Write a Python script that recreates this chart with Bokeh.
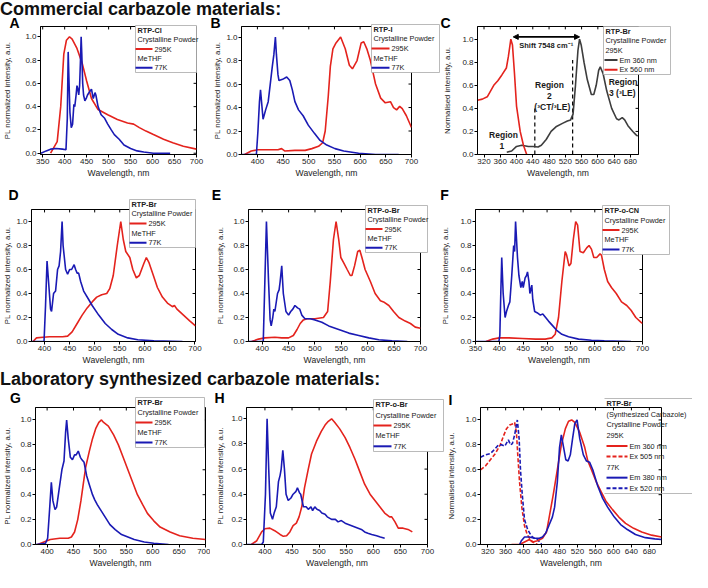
from bokeh.plotting import figure
from bokeh.models import (Range1d, FixedTicker, PrintfTickFormatter, Label, Arrow,
                          NormalHead, Div, GridBox)
from bokeh.layouts import column, row
from bokeh.core.properties import value
from bokeh.embed import file_html
from bokeh.resources import INLINE

FONT = "Liberation Sans"
RED = "#e4231d"
BLUE = "#1a1ab4"
GRAY = "#3d3d3d"
BOXC = "#a8a8a8"

# ---------------- data ----------------
A_295_x = [368, 383, 391, 398, 404, 411, 417, 428, 440, 450, 461, 476, 498, 520, 543, 557, 570, 585, 602, 625, 646, 670, 700]
A_295_y = [0, 0.1, 0.4, 0.85, 0.97, 1.0, 0.98, 0.9, 0.77, 0.62, 0.47, 0.375, 0.33, 0.29, 0.26, 0.25, 0.22, 0.19, 0.16, 0.12, 0.09, 0.06, 0.035]
A_77_x = [346, 358, 368, 380, 395, 403, 406, 408, 410, 412, 415, 418, 421, 423, 426, 428, 430, 432, 434, 436, 437.5, 439, 441, 443, 446, 449, 452, 457, 461, 465, 469, 471, 476, 483, 491, 498, 506, 513, 524, 535, 550, 565, 580, 602, 640]
A_77_y = [0, 0.02, 0.035, 0.04, 0.035, 0.03, 0.3, 0.87, 0.6, 0.35, 0.22, 0.25, 0.42, 0.4, 0.5, 0.58, 0.55, 0.5, 0.58, 0.8, 1.0, 0.85, 0.6, 0.5, 0.45, 0.47, 0.5, 0.53, 0.55, 0.47, 0.52, 0.5, 0.4, 0.33, 0.3, 0.25, 0.2, 0.16, 0.12, 0.07, 0.04, 0.02, 0.01, 0.0, 0.0]

B_295_x = [375, 388, 400, 420, 440, 447, 453, 473, 493, 506, 519, 527, 532, 538, 542, 547, 553, 562, 571, 579, 585, 594, 602, 607, 613, 620, 630, 640, 649, 659, 665, 671, 677, 682, 690, 697, 700]
B_295_y = [0, 0.03, 0.04, 0.04, 0.04, 0.05, 0.03, 0.035, 0.035, 0.05, 0.07, 0.1, 0.2, 0.5, 0.75, 0.9, 0.95, 1.0, 0.9, 0.76, 0.73, 0.8, 0.95, 0.96, 0.9, 0.8, 0.6, 0.48, 0.44, 0.45, 0.4, 0.38, 0.41, 0.39, 0.33, 0.26, 0.23]
B_77_x = [369, 398, 401, 404, 406, 408, 411, 416, 421, 425, 429, 432, 435, 437, 440, 442, 449, 457, 463, 468, 473, 480, 489, 499, 511, 522, 535, 551, 568, 597, 630, 675]
B_77_y = [0, 0, 0.2, 0.45, 0.55, 0.45, 0.3, 0.38, 0.45, 0.6, 0.75, 0.85, 1.0, 0.85, 0.68, 0.63, 0.64, 0.66, 0.63, 0.55, 0.45, 0.38, 0.33, 0.25, 0.18, 0.12, 0.08, 0.05, 0.03, 0.01, 0.0, 0.0]

C_em_x = [376, 388, 400, 413, 429, 441, 453, 461, 473, 485, 497, 513, 525, 533, 539, 545, 551, 555, 559, 566, 574, 584, 590, 596, 602, 606, 613, 622, 634, 646, 652, 660, 666, 674, 686, 694, 698]
C_em_y = [0.02, 0.03, 0.07, 0.08, 0.07, 0.07, 0.065, 0.08, 0.13, 0.2, 0.24, 0.27, 0.29, 0.3, 0.35, 0.6, 0.9, 1.0, 0.95, 0.8, 0.65, 0.52, 0.52, 0.6, 0.73, 0.76, 0.7, 0.55, 0.4, 0.31, 0.3, 0.32, 0.3, 0.25, 0.2, 0.17, 0.16]
C_ex_x = [304, 316, 328, 336, 344, 354, 364, 375, 380, 386, 390, 395, 400, 409, 417, 425]
C_ex_y = [0.47, 0.48, 0.5, 0.55, 0.6, 0.64, 0.69, 0.75, 0.85, 1.0, 0.95, 0.7, 0.42, 0.2, 0.08, 0.0]

D_295_x = [377, 384, 397, 410, 436, 446, 455, 465, 475, 485, 495, 504, 514, 524, 530, 537, 545, 552, 557, 562, 570, 576, 583, 589, 598, 603, 608, 617, 625, 635, 645, 655, 659, 664, 677, 690, 701]
D_295_y = [0, 0.03, 0.035, 0.04, 0.04, 0.045, 0.08, 0.15, 0.22, 0.28, 0.33, 0.37, 0.39, 0.4, 0.44, 0.55, 0.8, 1.0, 0.85, 0.75, 0.7, 0.6, 0.53, 0.55, 0.65, 0.7, 0.66, 0.55, 0.45, 0.37, 0.32, 0.29, 0.3, 0.27, 0.22, 0.17, 0.13]
D_77_x = [374, 399, 402, 405, 408, 412, 414, 418, 422, 426, 429, 432, 435, 437, 442, 446, 450, 454, 459, 462, 465, 468, 472, 478, 488, 495, 508, 521, 534, 547, 566, 586, 618, 675]
D_77_y = [0, 0, 0.3, 0.67, 0.5, 0.27, 0.25, 0.4, 0.42, 0.6, 0.63, 0.75, 1.0, 0.8, 0.6, 0.56, 0.6, 0.6, 0.64, 0.6, 0.57, 0.57, 0.5, 0.42, 0.35, 0.3, 0.22, 0.15, 0.1, 0.06, 0.03, 0.015, 0.005, 0]

E_295_x = [380, 393, 405, 424, 437, 450, 459, 466, 472, 478, 485, 500, 516, 524, 529, 535, 540, 545, 549, 554, 561, 567, 570, 575, 581, 585, 589, 595, 605, 614, 624, 630, 640, 649, 659, 671, 681, 690, 700]
E_295_y = [0, 0.02, 0.03, 0.035, 0.03, 0.03, 0.05, 0.1, 0.15, 0.18, 0.19, 0.19, 0.2, 0.25, 0.5, 0.85, 1.0, 0.85, 0.7, 0.66, 0.6, 0.55, 0.55, 0.63, 0.75, 0.76, 0.7, 0.6, 0.5, 0.4, 0.34, 0.33, 0.3, 0.25, 0.2, 0.17, 0.15, 0.12, 0.11]
E_77_x = [374, 402, 405, 408, 412, 415, 417, 420, 422, 424, 429, 432, 434, 437, 440, 445, 450, 454, 458, 462, 467, 471, 475, 481, 491, 500, 513, 526, 545, 564, 583, 602, 621, 646, 675]
E_77_y = [0, 0, 0.5, 1.0, 0.5, 0.18, 0.13, 0.2, 0.27, 0.25, 0.4, 0.43, 0.5, 0.63, 0.4, 0.25, 0.22, 0.25, 0.27, 0.3, 0.28, 0.27, 0.22, 0.19, 0.19, 0.18, 0.16, 0.13, 0.1, 0.07, 0.05, 0.03, 0.015, 0.005, 0]

F_295_x = [372, 386, 400, 420, 448, 476, 496, 510, 517, 524, 531, 538, 541, 546, 550, 555, 560, 564, 569, 576, 583, 588, 593, 598, 604, 611, 614, 620, 627, 635, 645, 656, 667, 676, 686, 697, 700]
F_295_y = [0, 0.02, 0.03, 0.03, 0.025, 0.02, 0.02, 0.03, 0.06, 0.2, 0.5, 0.75, 0.72, 0.63, 0.65, 0.85, 1.0, 0.97, 0.75, 0.74, 0.78, 0.8, 0.77, 0.7, 0.7, 0.73, 0.72, 0.6, 0.5, 0.45, 0.4, 0.33, 0.3, 0.26, 0.2, 0.16, 0.15]
F_77_x = [350, 399, 401, 403, 405, 408, 412, 415, 419, 422, 426, 430, 432, 434, 438, 441, 445, 448, 450, 454, 457, 459, 462, 464, 468, 470, 474, 479, 486, 491, 497, 503, 512, 521, 531, 545, 566, 593, 620, 676]
F_77_y = [0, 0, 0.05, 0.4, 0.7, 0.4, 0.2, 0.25, 0.3, 0.33, 0.55, 0.8, 0.75, 1.0, 0.7, 0.55, 0.45, 0.5, 0.45, 0.53, 0.55, 0.58, 0.5, 0.4, 0.47, 0.35, 0.25, 0.24, 0.22, 0.23, 0.2, 0.17, 0.13, 0.09, 0.06, 0.04, 0.02, 0.01, 0.005, 0]

G_295_x = [382, 394, 406, 424, 440, 446, 452, 458, 464, 469, 473, 480, 486, 492, 498, 503, 507, 516, 526, 535, 544, 553, 562, 571, 581, 590, 602, 614, 633, 651, 676, 700]
G_295_y = [0, 0.02, 0.04, 0.05, 0.05, 0.06, 0.1, 0.2, 0.35, 0.5, 0.62, 0.75, 0.85, 0.93, 0.98, 1.0, 0.98, 0.95, 0.88, 0.8, 0.7, 0.6, 0.5, 0.4, 0.32, 0.25, 0.19, 0.14, 0.1, 0.07, 0.05, 0.04]
G_77_x = [379, 397, 401, 405, 408, 411, 415, 418, 423, 428, 432, 435, 437, 440, 444, 448, 452, 455, 459, 463, 466, 470, 475, 480, 486, 490, 495, 501, 510, 519, 529, 541, 553, 565, 584, 602, 630]
G_77_y = [0, 0.01, 0.05, 0.3, 0.5, 0.35, 0.28, 0.3, 0.45, 0.6, 0.67, 0.9, 1.0, 0.85, 0.7, 0.68, 0.72, 0.72, 0.75, 0.7, 0.68, 0.66, 0.55, 0.48, 0.4, 0.36, 0.32, 0.28, 0.22, 0.16, 0.12, 0.08, 0.06, 0.04, 0.02, 0.01, 0]

H_295_x = [375, 385, 394, 400, 409, 418, 428, 434, 440, 446, 452, 458, 463, 468, 473, 480, 486, 495, 504, 511, 517, 523, 529, 538, 548, 557, 566, 575, 584, 594, 603, 612, 621, 630, 634, 640, 646, 655, 664, 672]
H_295_y = [0, 0.03, 0.1, 0.125, 0.13, 0.11, 0.08, 0.065, 0.07, 0.1, 0.15, 0.17, 0.22, 0.3, 0.45, 0.6, 0.72, 0.82, 0.9, 0.95, 0.98, 1.0, 0.97, 0.92, 0.85, 0.77, 0.68, 0.58, 0.48, 0.4, 0.35, 0.3, 0.25, 0.22, 0.22, 0.18, 0.13, 0.13, 0.12, 0.1]
H_77_x = [366, 394, 397, 401, 404, 407, 410, 414, 417, 421, 425, 428, 430, 433, 436, 439, 443, 448, 452, 457, 460, 464, 466, 471, 476, 480, 485, 488, 492, 496, 501, 505, 511, 515, 523, 530, 535, 541, 548, 554, 560, 566, 572, 578, 584, 590, 597, 606, 613, 621]
H_77_y = [0, 0, 0.02, 0.4, 1.0, 0.6, 0.25, 0.2, 0.25, 0.3, 0.5, 0.55, 0.6, 0.75, 0.6, 0.4, 0.35, 0.37, 0.4, 0.42, 0.45, 0.41, 0.4, 0.3, 0.3, 0.28, 0.3, 0.27, 0.3, 0.28, 0.27, 0.25, 0.24, 0.22, 0.2, 0.2, 0.18, 0.19, 0.17, 0.16, 0.15, 0.14, 0.13, 0.12, 0.1, 0.09, 0.08, 0.07, 0.06, 0.05]

I_em295_x = [373, 391, 402, 413, 420, 431, 442, 451, 456, 466, 475, 484, 493, 500, 507, 514, 525, 536, 543, 551, 562, 573, 583, 598, 612, 627, 645, 663, 685, 707]
I_em295_y = [0, 0, 0.02, 0.04, 0.02, 0.03, 0.05, 0.1, 0.2, 0.4, 0.6, 0.8, 0.93, 0.99, 1.0, 0.98, 0.9, 0.78, 0.67, 0.6, 0.5, 0.42, 0.35, 0.28, 0.22, 0.17, 0.13, 0.1, 0.075, 0.06]
I_ex295_x = [304, 315, 326, 337, 348, 355, 362, 369, 377, 380, 384, 387, 391, 396, 402, 408, 415, 424, 431]
I_ex295_y = [0.6, 0.63, 0.68, 0.73, 0.8, 0.87, 0.93, 0.96, 0.97, 0.98, 0.9, 0.72, 0.5, 0.3, 0.15, 0.08, 0.04, 0.01, 0]
I_em77_x = [391, 395, 402, 413, 424, 435, 442, 449, 456, 464, 469, 475, 480, 484, 489, 494, 499, 504, 509, 514, 519, 525, 533, 540, 547, 554, 565, 576, 587, 602, 616, 631, 649, 671, 692, 707]
I_em77_y = [0, 0.03, 0.06, 0.06, 0.05, 0.05, 0.06, 0.09, 0.15, 0.22, 0.3, 0.5, 0.78, 0.88, 0.78, 0.68, 0.67, 0.72, 0.85, 0.97, 1.0, 0.85, 0.72, 0.67, 0.66, 0.6, 0.47, 0.37, 0.3, 0.22, 0.16, 0.12, 0.08, 0.055, 0.045, 0.04]
I_ex77_x = [304, 315, 326, 337, 344, 351, 358, 366, 371, 375, 380, 386, 390, 393, 397, 402, 409, 417, 424, 431, 440]
I_ex77_y = [0.7, 0.72, 0.73, 0.77, 0.8, 0.8, 0.79, 0.84, 0.8, 0.81, 0.88, 1.0, 0.85, 0.6, 0.4, 0.2, 0.12, 0.07, 0.05, 0.04, 0.0]

TICKS_350 = [350, 400, 450, 500, 550, 600, 650, 700]
TICKS_400 = [400, 450, 500, 550, 600, 650, 700]
TICKS_320 = [320, 360, 400, 440, 480, 520, 560, 600, 640, 680]
Y_TICKS = [0.0, 0.2, 0.4, 0.6, 0.8, 1.0]
PL_LABEL = "PL normalized intensity, a.u."
NORM_LABEL = "Normalised intensity, a.u."

PANEL_LETTERS = ["A", "B", "C", "D", "E", "F", "G", "H", "I"]

W, H = 692, 572          # page content size (page origin at 8, 8)
TICK_IN = 3              # px length of the inward mirror ticks on top / right


def panel(fig, frame, xr, yr, xticks, ylabel, ylab_off):
    fx0, fy0, fx1, fy1 = fig
    l, t, r, b = frame
    p = figure(width=fx1 - fx0, height=fy1 - fy0,
               x_range=Range1d(*xr), y_range=Range1d(*yr),
               min_border_left=l - fx0, min_border_right=fx1 - r,
               min_border_top=t - fy0, min_border_bottom=fy1 - b,
               output_backend="svg", toolbar_location=None)
    p.xgrid.visible = False
    p.ygrid.visible = False
    p.outline_line_color = "black"
    p.outline_line_width = 1
    p.background_fill_color = "white"
    p.border_fill_color = "white"
    for ax in (p.xaxis[0], p.yaxis[0]):
        ax.axis_line_color = "black"
        ax.major_tick_line_color = "black"
        ax.major_tick_out = 3
        ax.major_tick_in = 0
        ax.minor_tick_line_color = None
        ax.major_label_text_font = FONT
        ax.major_label_text_font_size = "8px"
        ax.major_label_text_color = "#222222"
        ax.major_label_standoff = 1
        ax.axis_label_text_font = FONT
        ax.axis_label_text_font_style = "normal"
        ax.axis_label_text_color = "#222222"
    p.xaxis[0].ticker = FixedTicker(ticks=xticks)
    p.yaxis[0].ticker = FixedTicker(ticks=Y_TICKS)
    p.yaxis[0].formatter = PrintfTickFormatter(format="%.1f")
    p.xaxis[0].axis_label = "Wavelength, nm"
    p.xaxis[0].axis_label_text_font_size = "8.6px"
    p.xaxis[0].axis_label_standoff = 1
    p.yaxis[0].axis_label = ylabel
    p.yaxis[0].axis_label_text_font_size = "7.8px"
    p.yaxis[0].axis_label_standoff = int(ylab_off)
    # inward mirror ticks on the right and top frame edges (at the axis tick values)
    dx = TICK_IN * (xr[1] - xr[0]) / (r - l)
    dy = TICK_IN * (yr[1] - yr[0]) / (b - t)
    yt = [v for v in Y_TICKS if yr[0] <= v <= yr[1]]
    xt = [v for v in xticks if xr[0] <= v <= xr[1]]
    p.segment(x0=[xr[1]] * len(yt), x1=[xr[1] - dx] * len(yt), y0=yt, y1=yt,
              line_color="black", line_width=1)
    p.segment(x0=xt, x1=xt, y0=[yr[1]] * len(xt), y1=[yr[1] - dy] * len(xt),
              line_color="black", line_width=1)
    return p


LW = 1.6

# ---------------- row 1 ----------------
pA = panel((8, 26, 216, 196), (44, 33, 204, 162), (345, 700), (-0.011, 1.088), TICKS_350, PL_LABEL, 10)
pA.line(A_295_x, A_295_y, line_color=RED, line_width=LW)
pA.line(A_77_x, A_77_y, line_color=BLUE, line_width=LW)

pB = panel((216, 26, 448, 196), (249, 33, 419, 167), (369, 700), (0, 1.09), TICKS_400, PL_LABEL, 1)
pB.line(B_295_x, B_295_y, line_color=RED, line_width=LW)
pB.line(B_77_x, B_77_y, line_color=BLUE, line_width=LW)

pC = panel((448, 26, 700, 196), (482, 34, 646, 169), (304, 700), (0, 1.11), TICKS_320, NORM_LABEL, 7)
pC.segment(x0=[445, 538], y0=[0, 0], x1=[445, 538], y1=[0.42, 0.82],
           line_color="black", line_width=1.2, line_dash="4 3")
pC.line(C_em_x, C_em_y, line_color=GRAY, line_width=LW)
pC.line(C_ex_x, C_ex_y, line_color=RED, line_width=LW)
pC.add_layout(Arrow(start=NormalHead(size=5, fill_color="black", line_color="black"),
                    end=NormalHead(size=5, fill_color="black", line_color="black"),
                    x_start=392, y_start=1.02, x_end=555, y_end=1.02,
                    line_color="black", line_width=1.6))
for txt, x, y, fs in [("Shift 7548 cm\u207b\u00b9", 473, 0.945, "7.5px"),
                      ("Region", 368, 0.17, "8.5px"), ("1", 364, 0.075, "8.5px"),
                      ("Region", 481, 0.60, "8.5px"), ("2", 481, 0.505, "8.5px"),
                      ("(\u00b3CT/\u00b3LE)", 488, 0.41, "8.5px"),
                      ("Region", 662, 0.63, "8.5px"), ("3 (\u00b3LE)", 660, 0.53, "8.5px")]:
    pC.add_layout(Label(x=x, y=y, text=txt, text_font=FONT, text_font_size=fs,
                        text_font_style="bold", text_align="center", text_baseline="middle",
                        text_color="#1a1a1a"))

# ---------------- row 2 ----------------
pD = panel((8, 196, 218, 378), (35, 217, 203, 352), (374, 701), (0, 1.1), TICKS_400, PL_LABEL, 1)
pD.line(D_295_x, D_295_y, line_color=RED, line_width=LW)
pD.line(D_77_x, D_77_y, line_color=BLUE, line_width=LW)

pE = panel((218, 196, 446, 378), (256, 212, 428, 349), (374, 700), (0, 1.1), TICKS_400, PL_LABEL, 5)
pE.line(E_295_x, E_295_y, line_color=RED, line_width=LW)
pE.line(E_77_x, E_77_y, line_color=BLUE, line_width=LW)

pF = panel((446, 196, 700, 378), (481, 213, 650, 351), (350, 700), (0, 1.1), TICKS_350, PL_LABEL, 7)
pF.line(F_295_x, F_295_y, line_color=RED, line_width=LW)
pF.line(F_77_x, F_77_y, line_color=BLUE, line_width=LW)

# ---------------- row 3 ----------------
pG = panel((8, 396, 218, 580), (38, 415, 213, 552), (378, 700), (0, 1.1), TICKS_400, PL_LABEL, 5)
pG.line(G_295_x, G_295_y, line_color=RED, line_width=LW)
pG.line(G_77_x, G_77_y, line_color=BLUE, line_width=LW)

pH = panel((218, 396, 452, 580), (254, 408, 435, 552), (366, 700), (0, 1.09), TICKS_400, PL_LABEL, 3)
pH.line(H_295_x, H_295_y, line_color=RED, line_width=LW)
pH.line(H_77_x, H_77_y, line_color=BLUE, line_width=LW)

pI = panel((452, 396, 700, 580), (484, 409, 669, 552), (304, 707), (0, 1.1), TICKS_320, NORM_LABEL, 6)
pI.line(I_ex295_x, I_ex295_y, line_color=RED, line_width=LW, line_dash="4 2")
pI.line(I_ex77_x, I_ex77_y, line_color=BLUE, line_width=LW, line_dash="4 2")
pI.line(I_em295_x, I_em295_y, line_color=RED, line_width=LW)
pI.line(I_em77_x, I_em77_y, line_color=BLUE, line_width=LW)

TITLE_STYLE = ("white-space:nowrap;font-family:'Liberation Sans',Arial,sans-serif;"
               "font-weight:bold;font-size:18px;line-height:18px;color:#111;")
title1 = Div(text='<div style="%s">Commercial carbazole materials:</div>' % TITLE_STYLE,
             width=W, height=18, margin=0)
title2 = Div(text='<div style="%s">Laboratory synthesized carbazole materials:</div>' % TITLE_STYLE,
             width=W, height=18, margin=0)

main = column(title1, row(pA, pB, pC), row(pD, pE, pF), title2, row(pG, pH, pI))

# ---------------- overlay: panel letters and legend boxes (pixel space) ----------------
ov = figure(width=W, height=H, x_range=Range1d(0, W), y_range=Range1d(H, 0),
            x_axis_type=None, y_axis_type=None,
            min_border_left=0, min_border_right=0, min_border_top=0, min_border_bottom=0,
            output_backend="svg", toolbar_location=None)
ov.outline_line_color = None
ov.background_fill_color = None
ov.border_fill_color = None

# page positions (page origin offset 8 px) of letters
LETTER_POS = [(22, 30), (223, 30), (453, 30), (21, 202), (224, 202), (452, 202),
              (23, 405), (227, 405), (458, 407)]
ov.text(x=[p[0] - 8 for p in LETTER_POS], y=[p[1] - 8 for p in LETTER_POS], text=PANEL_LETTERS,
        text_font=value(FONT), text_font_size=value("14px"), text_font_style="bold",
        text_align="center", text_baseline="middle", text_color="black")


def std_rows(name):
    return [(name, "title", None, "solid"),
            ("Crystalline Powder", "text", None, "solid"),
            ("295K", "line", RED, "solid"),
            ("MeTHF", "text", None, "solid"),
            ("77K", "line", BLUE, "solid")]


LEGENDS = [
    ((143, 33, 61, 47), std_rows("RTP-Cl"), (0, 17), 19, True),
    ((379, 32, 68, 48), std_rows("RTP-I"), (0, 18), 20, True),
    ((611, 34, 67, 48), [("RTP-Br", "title", None, "solid"), ("Crystalline Powder", "text", None, "solid"),
                         ("295K", "text", None, "solid"), ("Em 360 nm", "line", GRAY, "solid"),
                         ("Ex 560 nm", "line", RED, "solid")], (1, 14), 16, True),
    ((137, 207, 66, 48), std_rows("RTP-Br"), (0, 17), 19, True),
    ((373, 213, 62, 47), std_rows("RTP-o-Br"), (0, 17), 19, True),
    ((610, 213, 67, 49), std_rows("RTP-o-CN"), (0, 17), 19, True),
    ((143, 405, 69, 50), std_rows("RTP-Br"), (0, 17), 19, True),
    ((381, 407, 70, 52), std_rows("RTP-o-Br"), (0, 18), 20, True),
    ((612, 406, 88, 95), [("RTP-Br", "title", None, "solid"), ("(Synthesized Carbazole)", "text", None, "solid"),
                          ("Crystalline Powder", "text", None, "solid"), ("295K", "text", None, "solid"),
                          ("Em 360 nm", "line", RED, "solid"), ("Ex 505 nm", "line", RED, "4 2"),
                          ("77K", "text", None, "solid"), ("Em 380 nm", "line", BLUE, "solid"),
                          ("Ex 520 nm", "line", BLUE, "4 2")], (2, 23), 25, False),
]

box_l, box_r, box_t, box_b = [], [], [], []
open_x0, open_x1, open_y = [], [], []
txt = {"normal": ([], [], []), "bold": ([], [], [])}
seg = {"solid": ([], [], [], [], []), "4 2": ([], [], [], [], [])}
for (x0, y0, w, h), rows, line_x, label_dx, closed in LEGENDS:
    x0 -= 8
    y0 -= 8
    if closed:
        box_l.append(x0); box_r.append(x0 + w); box_t.append(y0); box_b.append(y0 + h)
    else:
        for yy in (y0, y0 + h):
            open_x0.append(x0); open_x1.append(x0 + w); open_y.append(yy)
    n = len(rows)
    for i, (label, kind, color, dash) in enumerate(rows):
        yy = y0 + (i + 0.5) * h / n
        if kind == "line":
            s = seg[dash]
            s[0].append(x0 + line_x[0]); s[1].append(x0 + line_x[1]); s[2].append(yy); s[3].append(color)
            tx = x0 + label_dx
        else:
            tx = x0 + 2
        t = txt["bold" if kind == "title" else "normal"]
        t[0].append(tx); t[1].append(yy); t[2].append(label)

ov.quad(left=box_l, right=box_r, top=box_t, bottom=box_b, fill_color="white",
        line_color=BOXC, line_width=0.8)
ov.segment(x0=open_x0, x1=open_x1, y0=open_y, y1=open_y, line_color=BOXC, line_width=0.8)
for dash, s in seg.items():
    ov.segment(x0=s[0], x1=s[1], y0=s[2], y1=s[2], line_color=s[3], line_width=2, line_dash=dash)
for style, t in txt.items():
    ov.text(x=t[0], y=t[1], text=t[2], text_font=value(FONT), text_font_size=value("7.3px"),
            text_font_style=style, text_align="left", text_baseline="middle", text_color="#202020")

root = GridBox(children=[(main, 0, 0), (ov, 0, 0)])
open("out.html", "w").write(file_html(root, INLINE))
